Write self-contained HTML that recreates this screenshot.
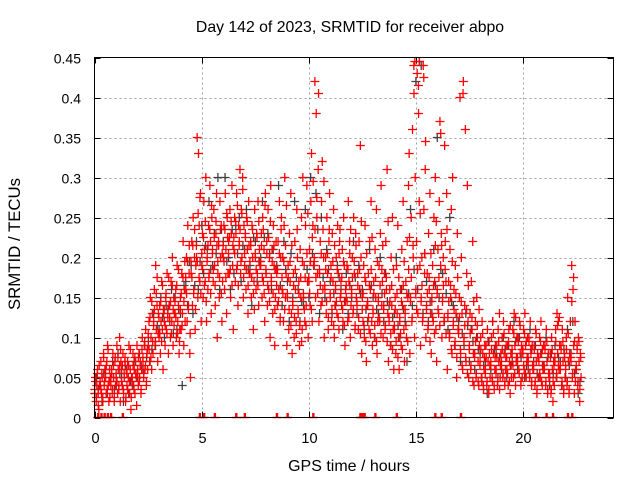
<!DOCTYPE html>
<html><head><meta charset="utf-8"><style>
html,body{margin:0;padding:0;background:#fff;}
svg{display:block;font-family:"Liberation Sans",sans-serif;}
</style></head><body>
<svg id="chart" width="640" height="480" viewBox="0 0 640 480" xmlns="http://www.w3.org/2000/svg">
<rect width="640" height="480" fill="#fff"/>
<text x="350" y="32" font-size="15.8" text-anchor="middle">Day 142 of 2023, SRMTID for receiver abpo</text>
<text x="349" y="471" font-size="16" text-anchor="middle">GPS time / hours</text>
<text x="0" y="0" font-size="16.8" text-anchor="middle" transform="translate(20,244) rotate(-90)">SRMTID / TECUs</text>
<g id="grid"></g><g id="ticks"></g><g id="gray"></g><g id="red"></g>
<rect x="94.5" y="57.5" width="519" height="360" fill="none" stroke="#000"/>
</svg>
<script>
const xTicks=[0,5,10,15,20];
const yTicks=[0,0.05,0.1,0.15,0.2,0.25,0.3,0.35,0.4,0.45];
const yTickLabels=["0","0.05","0.1","0.15","0.2","0.25","0.3","0.35","0.4","0.45"];
const binWidth=0.25;
const redValues=[
[.03,.05,.02,.04,.06,.03,.01,.04],[.04,.07,.03,.05,.02,.08,.04,.06],[.05,.03,.07,.09,.04,.02,.06,.05],[.04,.06,.03,.08,.05,.02,.07,.04],
[.05,.09,.03,.06,.04,.10,.02,.07],[.06,.04,.08,.03,.05,.07,.02,.06],[.04,.07,.05,.09,.03,.06,.01,.05],[.05,.08,.04,.06,.03,.07,.05,.09],
[.06,.04,.08,.05,.07,.03,.06,.10],[.07,.05,.09,.06,.11,.04,.08,.06],[.09,.12,.07,.15,.10,.06,.13,.08],[.12,.16,.09,.19,.11,.14,.07,.13],
[.10,.14,.08,.12,.17,.11,.06,.13],[.12,.09,.15,.11,.18,.13,.08,.14],[.14,.10,.17,.12,.20,.09,.15,.13],[.13,.16,.10,.19,.12,.14,.08,.11],
[.15,.11,.18,.13,.22,.09,.16,.12],[.16,.20,.12,.24,.14,.18,.08,.05],[.18,.22,.14,.25,.16,.20,.11,.19],[.20,.35,.15,.33,.24,.17,.28,.12],
[.19,.23,.15,.27,.21,.17,.30,.12],[.20,.16,.24,.18,.29,.22,.13,.25],[.21,.17,.26,.19,.14,.23,.28,.10],[.18,.22,.15,.27,.20,.24,.12,.17],
[.20,.24,.16,.28,.21,.13,.25,.18],[.22,.18,.26,.15,.23,.29,.19,.11],[.21,.25,.17,.23,.28,.19,.14,.24],[.22,.31,.18,.26,.20,.30,.15,.24],
[.19,.23,.16,.25,.21,.13,.27,.18],[.18,.22,.15,.24,.20,.11,.17,.26],[.20,.16,.23,.18,.27,.14,.21,.19],[.19,.23,.15,.25,.17,.21,.12,.28],
[.18,.22,.14,.26,.16,.20,.10,.29],[.17,.21,.13,.24,.19,.09,.15,.22],[.18,.14,.22,.16,.27,.12,.20,.25],[.16,.20,.12,.24,.30,.15,.18,.09],
[.15,.19,.11,.23,.17,.28,.13,.08],[.14,.18,.10,.22,.16,.12,.26,.20],[.13,.17,.09,.21,.15,.25,.11,.30],[.15,.19,.12,.24,.14,.29,.17,.10],
[.17,.21,.14,.27,.33,.12,.24,.19],[.20,.42,.15,.38,.25,.18,.31,.12],[.18,.22,.14,.27,.32,.16,.20,.10],[.16,.20,.13,.25,.18,.11,.22,.28],
[.15,.19,.12,.23,.17,.26,.10,.14],[.16,.20,.13,.24,.18,.11,.22,.15],[.17,.14,.21,.12,.25,.19,.09,.16],[.15,.19,.12,.27,.17,.22,.10,.14],
[.16,.20,.13,.25,.18,.11,.23,.15],[.14,.18,.11,.22,.16,.34,.20,.08],[.15,.12,.19,.10,.24,.17,.07,.14],[.14,.18,.11,.22,.16,.27,.12,.09],
[.13,.17,.10,.21,.15,.26,.08,.12],[.15,.19,.12,.23,.29,.14,.17,.10],[.14,.18,.11,.22,.16,.31,.13,.07],[.12,.16,.09,.20,.14,.25,.11,.06],
[.11,.15,.08,.19,.13,.24,.10,.06],[.12,.16,.09,.21,.14,.27,.11,.07],[.13,.17,.10,.22,.15,.29,.33,.08],[.15,.25,.12,.36,.20,.44,.10,.30],
[.16,.22,.43,.13,.38,.27,.19,.09],[.15,.20,.12,.44,.26,.18,.31,.10],[.14,.18,.11,.23,.16,.28,.13,.08],[.15,.19,.12,.25,.17,.30,.11,.07],
[.16,.21,.13,.27,.37,.19,.23,.10],[.15,.20,.12,.34,.22,.17,.28,.06],[.13,.17,.10,.21,.15,.26,.08,.30],[.12,.16,.09,.19,.13,.05,.23,.11],
[.11,.15,.40,.08,.20,.13,.06,.42],[.10,.14,.36,.07,.18,.29,.12,.05],[.09,.13,.06,.17,.11,.22,.08,.04],[.08,.12,.05,.15,.10,.07,.04,.09],
[.07,.10,.05,.12,.08,.04,.06,.09],[.06,.09,.04,.11,.07,.03,.08,.05],[.07,.10,.05,.12,.08,.04,.06,.09],[.06,.09,.04,.11,.07,.13,.05,.08],
[.07,.10,.05,.12,.08,.04,.06,.09],[.06,.09,.04,.11,.07,.03,.08,.05],[.08,.11,.05,.13,.09,.04,.07,.10],[.07,.10,.06,.12,.08,.04,.09,.05],
[.08,.11,.06,.13,.09,.05,.07,.10],[.07,.10,.05,.12,.08,.04,.09,.06],[.06,.09,.04,.11,.07,.03,.08,.05],[.07,.10,.05,.12,.08,.04,.06,.09],
[.06,.09,.04,.11,.07,.03,.08,.05],[.05,.08,.03,.10,.06,.02,.07,.04],[.07,.11,.05,.13,.08,.12,.06,.09],[.06,.09,.04,.11,.07,.03,.08,.05],
[.06,.10,.04,.15,.07,.03,.08,.12],[.07,.19,.05,.16,.09,.03,.12,.06],[.06,.09,.04,.10,.07,.02,.08,.05]
];
const redValuesB=[
[.035,.045,.025,.055,.015,.065],[.045,.035,.055,.025,.075,.045],[.055,.065,.035,.085,.045,.025],[.045,.055,.035,.065,.025,.075],
[.055,.045,.075,.035,.065,.085],[.045,.065,.035,.055,.075,.025],[.055,.035,.065,.045,.085,.025],[.045,.065,.035,.075,.055,.015],
[.055,.075,.045,.065,.035,.085],[.075,.055,.095,.065,.045,.085],[.105,.085,.125,.075,.145,.095],[.115,.135,.095,.155,.175,.105],
[.125,.105,.145,.095,.165,.135],[.135,.115,.155,.105,.125,.175],[.125,.145,.105,.165,.135,.115],[.145,.125,.165,.105,.185,.095],
[.135,.155,.115,.175,.145,.195],[.175,.155,.195,.135,.215,.105],[.195,.175,.215,.155,.235,.135],[.215,.195,.255,.175,.275,.155],
[.205,.185,.225,.165,.245,.145],[.195,.215,.175,.235,.155,.265],[.205,.185,.225,.165,.245,.215],[.195,.215,.175,.235,.155,.205],
[.215,.195,.235,.175,.255,.225],[.205,.225,.185,.245,.165,.215],[.225,.205,.245,.185,.265,.165],[.215,.235,.195,.255,.285,.175],
[.205,.225,.185,.245,.165,.215],[.195,.215,.175,.235,.155,.135],[.205,.185,.225,.165,.245,.195],[.195,.215,.175,.235,.155,.265],
[.185,.205,.165,.225,.145,.245],[.175,.195,.155,.215,.135,.185],[.165,.185,.145,.205,.125,.235],[.175,.155,.195,.135,.215,.265],
[.155,.175,.135,.195,.115,.215],[.145,.165,.125,.185,.105,.235],[.135,.155,.115,.175,.095,.195],[.155,.135,.175,.115,.205,.255],
[.175,.155,.195,.135,.225,.295],[.195,.235,.175,.275,.155,.405],[.185,.165,.205,.145,.235,.295],[.165,.185,.145,.205,.125,.235],
[.155,.175,.135,.195,.115,.215],[.165,.145,.185,.125,.205,.235],[.155,.175,.135,.195,.115,.145],[.165,.145,.185,.125,.205,.235],
[.155,.175,.135,.195,.115,.215],[.145,.165,.125,.185,.105,.245],[.135,.155,.115,.175,.095,.205],[.145,.125,.165,.105,.185,.225],
[.135,.155,.115,.175,.095,.195],[.145,.125,.165,.105,.185,.215],[.135,.155,.115,.175,.095,.245],[.125,.145,.105,.165,.085,.185],
[.115,.135,.095,.155,.075,.175],[.125,.105,.145,.085,.165,.195],[.135,.115,.155,.095,.185,.225],[.145,.175,.125,.215,.405,.445],
[.155,.135,.185,.415,.445,.255],[.145,.165,.125,.425,.205,.345],[.135,.155,.115,.175,.095,.205],[.145,.125,.165,.105,.215,.245],
[.155,.135,.175,.115,.355,.215],[.145,.165,.125,.185,.105,.235],[.125,.145,.105,.165,.085,.195],[.115,.135,.095,.155,.075,.175],
[.105,.125,.085,.145,.065,.405],[.095,.115,.075,.135,.055,.165],[.085,.105,.065,.125,.045,.145],[.075,.095,.055,.115,.045,.135],
[.065,.085,.045,.105,.035,.075],[.055,.075,.045,.095,.035,.065],[.065,.085,.045,.105,.035,.075],[.055,.075,.045,.095,.035,.065],
[.065,.085,.055,.105,.045,.075],[.075,.055,.095,.045,.115,.065],[.085,.065,.105,.055,.125,.075],[.075,.095,.055,.115,.045,.085],
[.085,.065,.105,.055,.095,.075],[.075,.095,.055,.085,.045,.065],[.065,.085,.045,.105,.035,.075],[.075,.055,.095,.045,.085,.065],
[.065,.085,.045,.095,.035,.055],[.055,.075,.035,.085,.045,.065],[.075,.095,.055,.115,.065,.125],[.065,.085,.045,.095,.035,.075],
[.065,.085,.045,.105,.035,.075],[.075,.145,.055,.175,.095,.045],[.065,.085,.045,.095,.035,.075]
];
const grayValues=[
[.03,.05,.035],[.04,.02,.055],[.06,.03,.045],[.05,.07,.035],[.04,.08,.055],[.05,.02,.065],[.06,.03,.045],[.04,.07,.055],[.05,.08,.065],[.06,.09,.075],[.10,.07,.085],[.13,.09,.115],
[.11,.15,.125],[.10,.14,.135],[.12,.16,.105],[.15,.11,.135],[.13,.04,.165],[.17,.14,.195],[.19,.13,.165],[.22,.16,.195],[.24,.18,.215],[.21,.27,.185],[.19,.23,.205],[.30,.16,.235],
[.22,.30,.195],[.20,.16,.235],[.18,.24,.205],[.25,.17,.215],[.21,.26,.185],[.19,.14,.225],[.22,.17,.195],[.20,.27,.225],[.18,.23,.205],[.16,.21,.185],[.19,.29,.165],[.14,.22,.185],
[.17,.12,.205],[.15,.27,.175],[.16,.12,.145],[.14,.26,.185],[.15,.30,.205],[.19,.28,.235],[.13,.25,.175],[.15,.21,.185],[.17,.13,.155],[.14,.19,.175],[.16,.11,.145],[.18,.13,.165],
[.15,.22,.175],[.13,.19,.155],[.16,.11,.135],[.12,.21,.165],[.15,.10,.135],[.13,.20,.155],[.12,.18,.145],[.14,.09,.125],[.13,.20,.115],[.10,.16,.135],[.12,.07,.155],[.26,.14,.185],
[.42,.16,.445],[.44,.13,.205],[.17,.12,.145],[.13,.21,.165],[.35,.15,.185],[.18,.12,.155],[.11,.25,.145],[.14,.09,.125],[.12,.07,.105],[.09,.13,.115],[.07,.11,.095],[.06,.10,.085],
[.08,.05,.065],[.07,.03,.095],[.06,.12,.085],[.08,.05,.075],[.06,.10,.085],[.05,.09,.065],[.07,.12,.095],[.06,.10,.075],[.08,.05,.065],[.06,.11,.085],[.07,.09,.055],[.05,.08,.065],
[.06,.10,.075],[.04,.08,.055],[.09,.05,.075],[.07,.04,.085],[.05,.11,.065],[.08,.12,.055],[.06,.03,.045]
];
const zeroTimes=[0.15,0.3,0.45,0.6,0.75,1.3,4.9,5.1,5.6,6.6,7.0,8.5,9.0,10.2,12.4,12.5,12.6,13.1,14.1,15.9,16.2,17.1,20.6,21.1,21.4,22.1,22.3];

const X0=94.5,X1=613.5,Y0=417.5,Y1=57.5,XMAX=24.25,YMAX=0.45;
function xs(t){return X0+(X1-X0)*t/XMAX;}
function ys(v){return Y0-(Y0-Y1)*v/YMAX;}
const NS="http://www.w3.org/2000/svg";
function mk(tag,attrs,parent){const e=document.createElementNS(NS,tag);for(const k in attrs)e.setAttribute(k,attrs[k]);parent.appendChild(e);return e;}
const grid=document.getElementById('grid'),ticks=document.getElementById('ticks');
xTicks.forEach(t=>{const x=Math.round(xs(t))+0.5;
 if(t>0){const g=mk('line',{x1:x,x2:x,y1:Y1,y2:Y0,stroke:'#a0a0a0','stroke-dasharray':'2,3'},grid);
 
 }
 mk('line',{x1:x,x2:x,y1:Y0,y2:Y0-6,stroke:'#000'},ticks);
 mk('line',{x1:x,x2:x,y1:Y1,y2:Y1+6,stroke:'#000'},ticks);
 const l=mk('text',{x:x,y:443,'font-size':14.5,'text-anchor':'middle'},ticks);l.textContent=t;
 
 
});
yTicks.forEach((v,i)=>{const y=Math.round(ys(v))+0.5;
 if(i>0&&i<yTicks.length-1){const g=mk('line',{x1:X0,x2:X1,y1:y,y2:y,stroke:'#a0a0a0','stroke-dasharray':'2,3'},grid);
 
 }
 mk('line',{x1:X0,x2:X0+6,y1:y,y2:y,stroke:'#000'},ticks);
 mk('line',{x1:X1,x2:X1-6,y1:y,y2:y,stroke:'#000'},ticks);
 const l=mk('text',{x:81,y:y+5,'font-size':14,'text-anchor':'end'},ticks);l.textContent=yTickLabels[i];
 
 
});
function plus(parent,t,v,color){
 const x=xs(t),y=Math.min(ys(v),Y0);
 let d='M'+(x-4.5)+' '+y+'h9';
 d+='M'+x+' '+(y-4.5)+'v'+(v<=0?4.5:9);
 const p=mk('path',{d:d,stroke:color,'stroke-width':1.3,fill:'none'},parent);
 
 
}
const grayG=document.getElementById('gray'),redG=document.getElementById('red');
grayValues.forEach((arr,b)=>arr.forEach((v,k)=>plus(grayG,b*binWidth+(k+0.2)*binWidth/arr.length,v,'#404040')));
redValues.forEach((arr,b)=>arr.forEach((v,k)=>plus(redG,b*binWidth+(k+0.5)*binWidth/arr.length,v,'#ff0000')));
redValuesB.forEach((arr,b)=>arr.forEach((v,k)=>plus(redG,b*binWidth+(k+0.25)*binWidth/arr.length,v,'#ff0000')));
zeroTimes.forEach(t=>{plus(redG,t,0,'#ff0000');plus(redG,t+0.05,0,'#ff0000');});
</script>
</body></html>
